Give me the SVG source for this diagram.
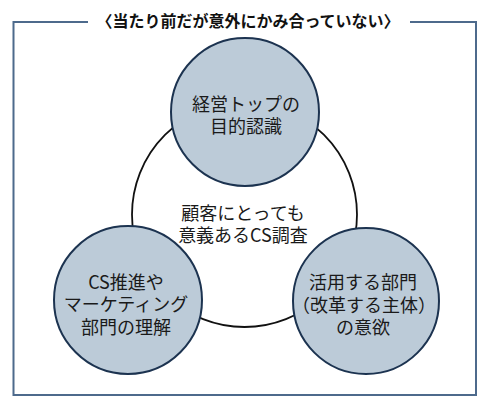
<svg xmlns="http://www.w3.org/2000/svg" width="489" height="403" viewBox="0 0 489 403">
<style>
.frame{fill:none;stroke:#4d6a8c;stroke-width:2}
.node{fill:#bccbd8;stroke:#1c3350;stroke-width:2}
.ring{fill:none;stroke:#111;stroke-width:1.8}
text{font-family:"Noto Sans CJK JP","Noto Sans CJK SC",sans-serif;font-size:18px;fill:#1a1a1a;text-anchor:middle;dominant-baseline:central}
.title{font-size:16px;font-weight:bold;fill:#111}
</style>
<rect width="489" height="403" fill="#fff"/>
<path class="frame" d="M88,22 H13.5 V395 H476 V22 H410"/>
<text class="title" x="248" y="20">〈当たり前だが意外にかみ合っていない〉</text>
<g id="connectors">
<circle class="ring" cx="244.5" cy="214.5" r="112.5"/>
</g>
<g id="center-label">
<text x="243" y="212">顧客にとっても</text>
<text x="243" y="234">意義あるCS調査</text>
</g>
<g id="node-top">
<circle class="node" cx="245" cy="112" r="74"/>
<text x="246" y="103">経営トップの</text>
<text x="246" y="125">目的認識</text>
</g>
<g id="node-left">
<circle class="node" cx="128" cy="300" r="74"/>
<text x="126" y="281">CS推進や</text>
<text x="126" y="303">マーケティング</text>
<text x="126" y="326">部門の理解</text>
</g>
<g id="node-right">
<circle class="node" cx="366" cy="301" r="73"/>
<text x="363" y="281">活用する部門</text>
<text x="364" y="304">（改革する主体）</text>
<text x="363" y="326">の意欲</text>
</g>
</svg>
